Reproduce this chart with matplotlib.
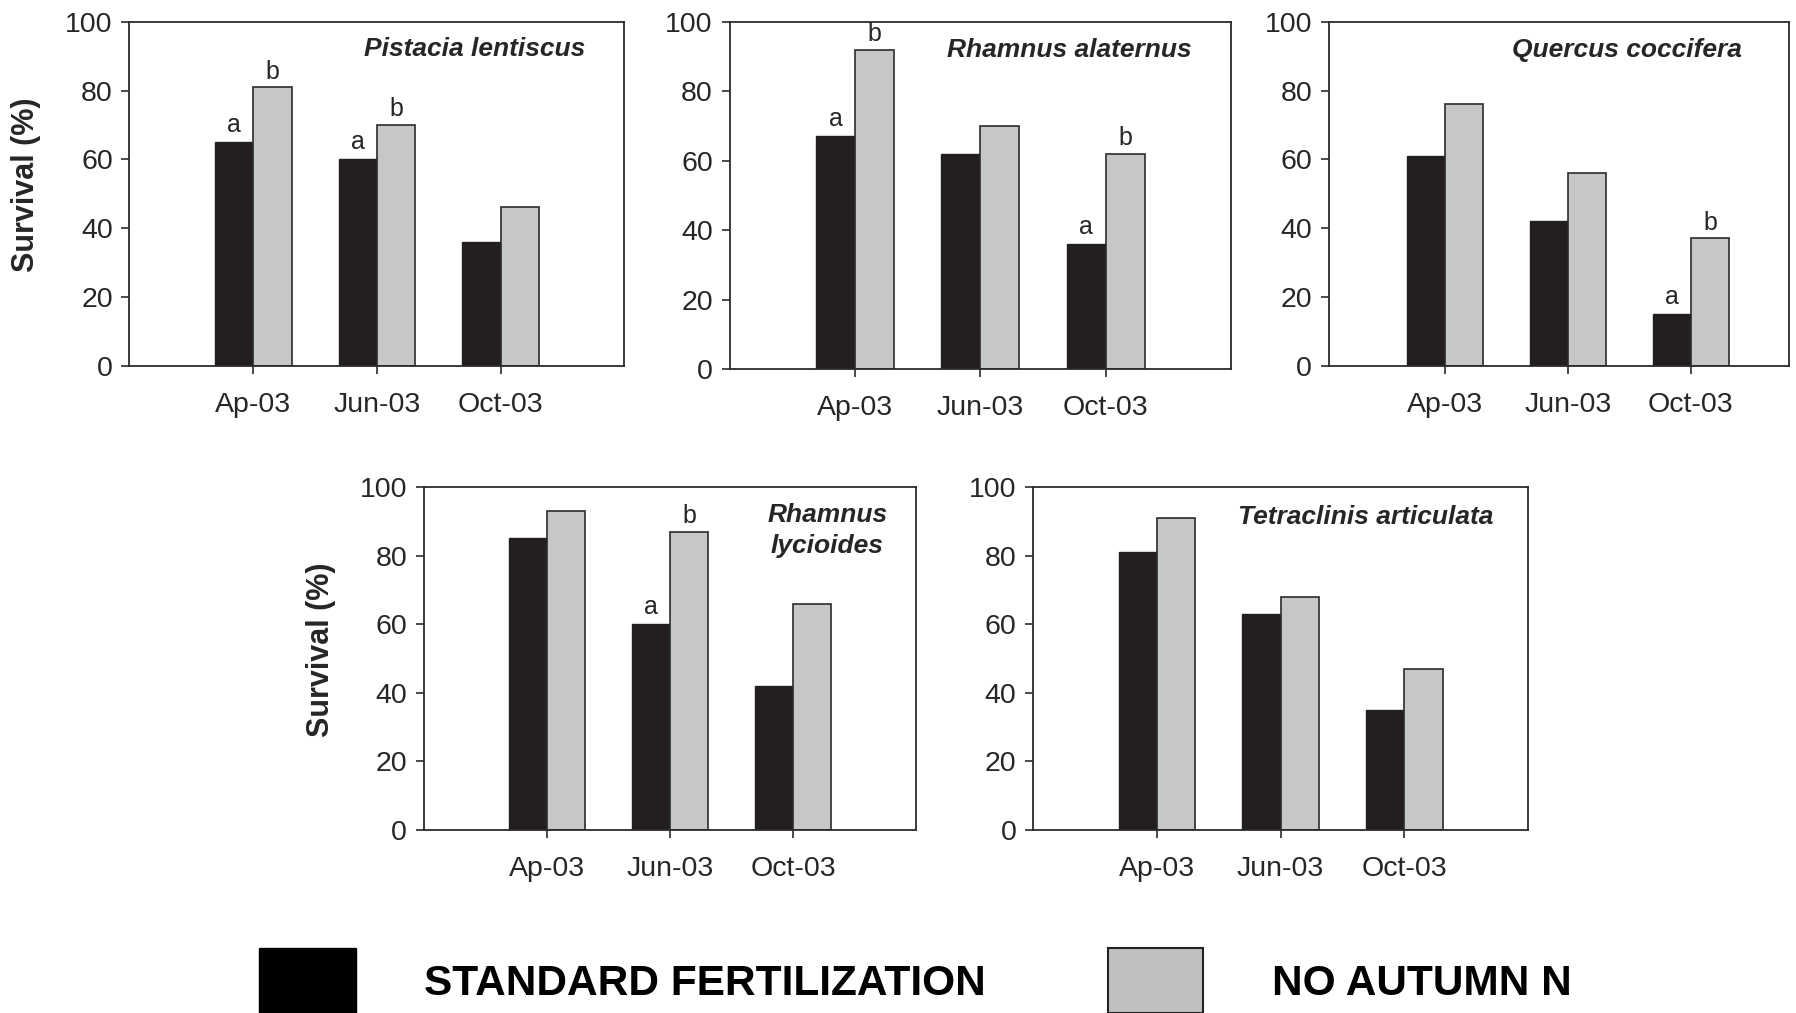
import matplotlib
matplotlib.use("Agg")
import matplotlib.pyplot as plt
from matplotlib.patches import Rectangle
import numpy as np

plt.rcParams['font.family'] = ['Liberation Sans', 'DejaVu Sans']

# Sampling dates
months = ["Ap-03", "Jun-03", "Oct-03"]
yticks = [0, 20, 40, 60, 80, 100]

# Survival (%) per species: standard fertilization vs. no autumn N
pistacia_std = [65, 60, 36]
pistacia_noN = [81, 70, 46]
pistacia_std_sig = ["a", "a", ""]
pistacia_noN_sig = ["b", "b", ""]

alaternus_std = [67, 62, 36]
alaternus_noN = [92, 70, 62]
alaternus_std_sig = ["a", "", "a"]
alaternus_noN_sig = ["b", "", "b"]

quercus_std = [61, 42, 15]
quercus_noN = [76, 56, 37]
quercus_std_sig = ["", "", "a"]
quercus_noN_sig = ["", "", "b"]

lycioides_std = [85, 60, 42]
lycioides_noN = [93, 87, 66]
lycioides_std_sig = ["", "a", ""]
lycioides_noN_sig = ["", "b", ""]

tetraclinis_std = [81, 63, 35]
tetraclinis_noN = [91, 68, 47]
tetraclinis_std_sig = ["", "", ""]
tetraclinis_noN_sig = ["", "", ""]

species_names = ["Pistacia lentiscus", "Rhamnus alaternus", "Quercus coccifera",
                 "Rhamnus\nlycioides", "Tetraclinis articulata"]
legend_labels = ["STANDARD FERTILIZATION", "NO AUTUMN N"]

BLACK = "#231f20"
GRAY = "#c6c7c9"
EDGE = "#2b2b2b"
TXT = "#262626"

fig = plt.figure(figsize=(17.96, 10.13), dpi=100)

# axes rectangles [left, bottom, width, height] in figure fraction
panels = [
    dict(rect=[0.0721, 0.6391, 0.2755, 0.3394], xlim=(0, 4),
         std=pistacia_std, noN=pistacia_noN, s1=pistacia_std_sig, s2=pistacia_noN_sig,
         name=species_names[0], tpos=(0.698, 0.92), ylabel=True),
    dict(rect=[0.4062, 0.6357, 0.2793, 0.3428], xlim=(0, 4),
         std=alaternus_std, noN=alaternus_noN, s1=alaternus_std_sig, s2=alaternus_noN_sig,
         name=species_names[1], tpos=(0.678, 0.92), ylabel=False),
    dict(rect=[0.7398, 0.6391, 0.2564, 0.3394], xlim=(0.05, 3.8),
         std=quercus_std, noN=quercus_noN, s1=quercus_std_sig, s2=quercus_noN_sig,
         name=species_names[2], tpos=(0.647, 0.917), ylabel=False),
    dict(rect=[0.2360, 0.1810, 0.2742, 0.3382], xlim=(0, 4),
         std=lycioides_std, noN=lycioides_noN, s1=lycioides_std_sig, s2=lycioides_noN_sig,
         name=species_names[3], tpos=(0.819, 0.874), ylabel=True),
    dict(rect=[0.5753, 0.1810, 0.2755, 0.3382], xlim=(0, 4),
         std=tetraclinis_std, noN=tetraclinis_noN, s1=tetraclinis_std_sig, s2=tetraclinis_noN_sig,
         name=species_names[4], tpos=(0.671, 0.913), ylabel=False),
]

w = 0.31
x = np.arange(1, len(months) + 1)

for p in panels:
    ax = fig.add_axes(p["rect"])
    ax.bar(x - w / 2, p["std"], w, color=BLACK, edgecolor=BLACK, linewidth=1.0, zorder=2)
    ax.bar(x + w / 2, p["noN"], w, color=GRAY, edgecolor=EDGE, linewidth=1.2, zorder=2)
    for xi, v, s in zip(x - w / 2, p["std"], p["s1"]):
        if s:
            ax.text(xi, v + 3, s, ha="center", va="baseline", fontsize=18, color=TXT)
    for xi, v, s in zip(x + w / 2, p["noN"], p["s2"]):
        if s:
            ax.text(xi, v + 2.5, s, ha="center", va="baseline", fontsize=18, color=TXT)
    ax.set_xlim(*p["xlim"])
    ax.set_ylim(0, 100)
    ax.set_xticks(x)
    ax.set_xticklabels(months)
    ax.set_yticks(yticks)
    ax.tick_params(axis="both", direction="out", length=6, width=1.2, colors=EDGE,
                   labelsize=20.5, labelcolor=TXT)
    ax.tick_params(axis="x", pad=13)
    ax.tick_params(axis="y", pad=6)
    for sp in ax.spines.values():
        sp.set_color(EDGE)
        sp.set_linewidth(1.3)
    ax.text(p["tpos"][0], p["tpos"][1], p["name"], transform=ax.transAxes,
            ha="center", va="center", fontsize=19, fontweight="bold",
            fontstyle="italic", color=TXT, linespacing=1.35)
    if p["ylabel"]:
        ax.set_ylabel("Survival (%)", fontsize=22, fontweight="bold", color=TXT)
        ax.yaxis.set_label_coords(-0.178, 0.525)

# Legend keys drawn in figure coordinates
fig.patches.append(Rectangle((0.144, 0.0), 0.054, 0.064, transform=fig.transFigure,
                             facecolor="#000000", edgecolor="#000000", linewidth=1.0))
fig.patches.append(Rectangle((0.617, 0.0), 0.053, 0.064, transform=fig.transFigure,
                             facecolor="#c0c0c0", edgecolor="#222222", linewidth=1.5))
fig.text(0.236, 0.029, legend_labels[0], ha="left", va="center", fontsize=30.5,
         fontweight="bold", color="#000000")
fig.text(0.708, 0.029, legend_labels[1], ha="left", va="center", fontsize=30.5,
         fontweight="bold", color="#000000")

fig.savefig("out.png", dpi=100, facecolor="white")
